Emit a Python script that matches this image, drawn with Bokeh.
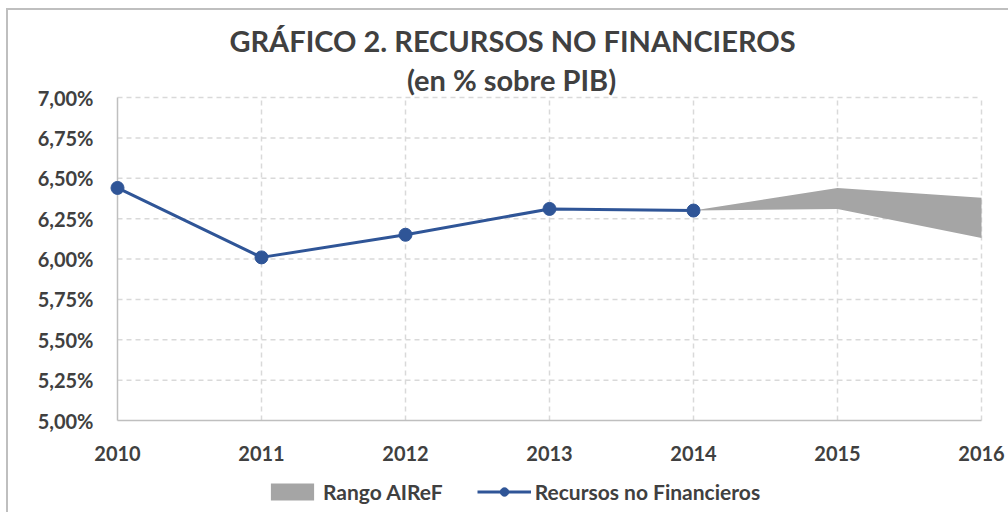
from bokeh.plotting import figure
from bokeh.models import Range1d, Legend, LegendItem, Label
from bokeh.core.properties import value
from bokeh.embed import file_html
from bokeh.resources import INLINE

years = [2010, 2011, 2012, 2013, 2014, 2015, 2016]
year_labels = ["2010", "2011", "2012", "2013", "2014", "2015", "2016"]
hist_years = [2010, 2011, 2012, 2013, 2014]
recursos = [6.44, 6.01, 6.15, 6.31, 6.30]
range_years = [2014, 2015, 2016]
range_low = [6.30, 6.31, 6.13]
range_high = [6.30, 6.44, 6.38]
y_ticks = [5.00, 5.25, 5.50, 5.75, 6.00, 6.25, 6.50, 6.75, 7.00]
y_labels = ["5,00%", "5,25%", "5,50%", "5,75%", "6,00%", "6,25%", "6,50%", "6,75%", "7,00%"]
title_1 = "GRÁFICO 2. RECURSOS NO FINANCIEROS"
title_2 = "(en % sobre PIB)"

FONT = "Lato"
TXT = "#404040"
BLUE = "#2F5597"
GREY = "#A5A5A5"
GRID = "#D9D9D9"
AXIS = "#BFBFBF"

W, H = 1008, 512
y_min, y_max = y_ticks[0], y_ticks[-1]
x_min, x_max = years[0], years[-1]
# plot area in pixels: 2010 at x=117, 2016 at x=981, 7.00% at y=97, 5.00% at y=420
PX_L, PX_R, PX_T, PX_B = 117, 981, 97, 420
px_per_year = (PX_R - PX_L) / (x_max - x_min)
px_per_pct = (PX_B - PX_T) / (y_max - y_min)


def sx(px):
    return x_min + (px - PX_L) / px_per_year


def sy(py):
    return y_max + (PX_T - py) / px_per_pct


p = figure(width=W, height=H, output_backend="svg", toolbar_location=None,
           x_axis_location=None, y_axis_location=None,
           x_range=Range1d(sx(0), sx(W)), y_range=Range1d(sy(H), sy(0)),
           min_border=0)
p.border_fill_color = None
p.background_fill_color = None
p.styles = {"box-shadow": "inset 6px 8px 0 0 #FFFFFF, inset 8px 10px 0 0 #BFBFBF"}
p.outline_line_color = None
p.title.visible = False
p.xgrid.visible = False
p.ygrid.visible = False

# dashed grid lines, limited to the plot area
p.segment(x0=[x_min] * (len(y_ticks) - 1), x1=[x_max] * (len(y_ticks) - 1),
          y0=y_ticks[1:], y1=y_ticks[1:], line_color=GRID, line_dash="5 4", line_width=1.5)
p.segment(x0=years[1:], x1=years[1:], y0=[y_min] * (len(years) - 1), y1=[y_max] * (len(years) - 1),
          line_color=GRID, line_dash="5 4", line_width=1.5)
# solid axis lines
p.segment(x0=[x_min], x1=[x_max], y0=[y_min], y1=[y_min], line_color=AXIS, line_width=1.5)
p.segment(x0=[x_min], x1=[x_min], y0=[y_min], y1=[y_max], line_color=AXIS, line_width=1.5)

# tick labels
p.text(x=years, y=[y_min] * len(years), text=year_labels, y_offset=33,
       text_align="center", text_baseline="middle", text_font=value(FONT),
       text_font_style="bold", text_font_size="20px", text_color=TXT)
p.text(x=[x_min] * len(y_ticks), y=y_ticks, text=y_labels, x_offset=-24,
       text_align="right", text_baseline="middle", text_font=value(FONT),
       text_font_style="bold", text_font_size="20px", text_color=TXT)

rng = p.varea(x=range_years, y1=range_low, y2=range_high, fill_color=GREY)
ln = p.line(hist_years, recursos, line_color=BLUE, line_width=3)
mk = p.scatter(hist_years, recursos, size=13, fill_color=BLUE, line_color=BLUE)

legend = Legend(items=[LegendItem(label="Rango AIReF", renderers=[rng]),
                       LegendItem(label="Recursos no Financieros", renderers=[ln, mk])],
                orientation="horizontal", location=(265, 8))
legend.glyph_width = 54
legend.glyph_height = 21
legend.label_text_font = FONT
legend.label_text_font_style = "bold"
legend.label_text_font_size = "21px"
legend.label_text_color = TXT
legend.border_line_color = None
legend.background_fill_alpha = 0
legend.padding = 0
legend.margin = 0
legend.spacing = 34
legend.label_standoff = 4
p.add_layout(legend, "center")

p.add_layout(Label(x=sx(512), y=sy(40), text=title_1, text_font=FONT, text_font_style="bold",
                   text_font_size="29px", text_color=TXT, text_align="center", text_baseline="middle"))
p.add_layout(Label(x=sx(511), y=sy(79), text=title_2, text_font=FONT, text_font_style="bold",
                   text_font_size="29px", text_color=TXT, text_align="center", text_baseline="middle"))

open("out.html", "w").write(file_html(p, INLINE))
